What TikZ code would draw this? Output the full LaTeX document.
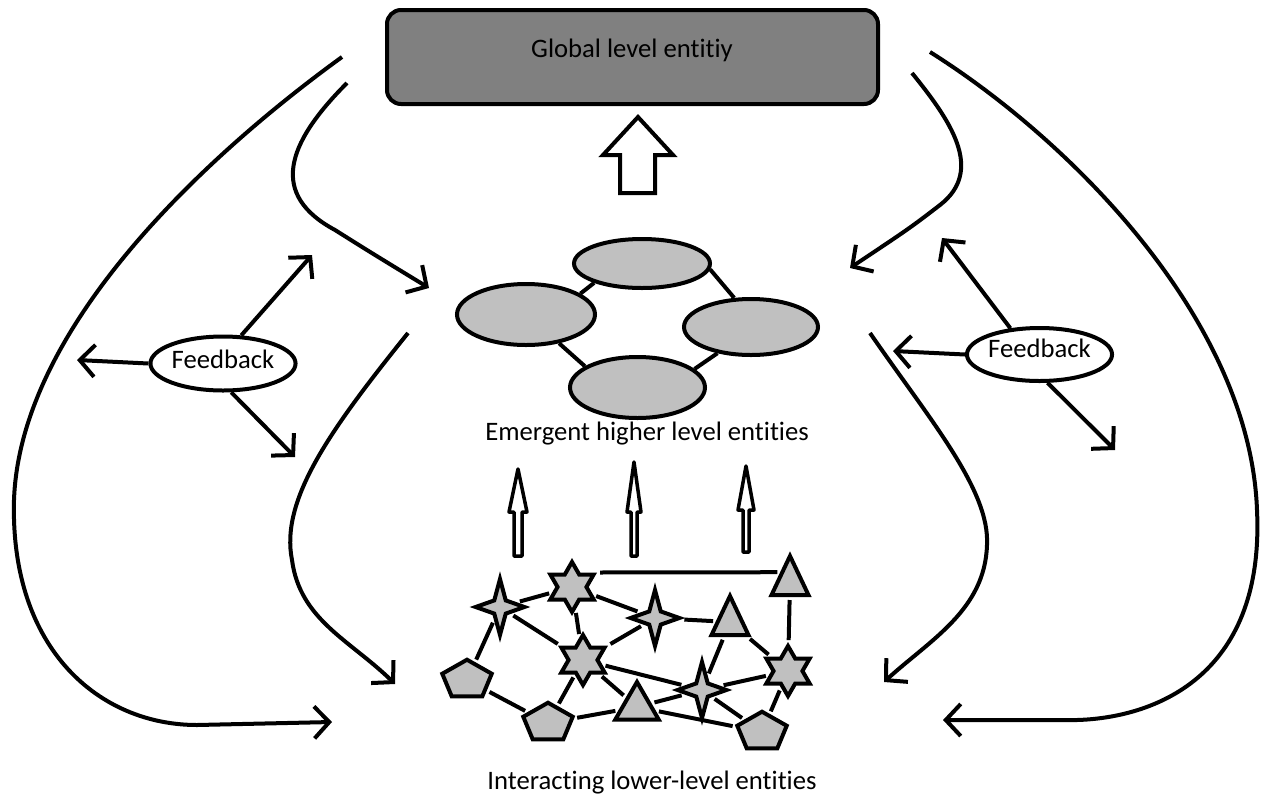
\documentclass[tikz,border=0pt]{standalone}
\usepackage{fontspec}
\setmainfont{Carlito}[Ligatures=NoCommon]
\usetikzlibrary{shapes.geometric,arrows.meta}
\definecolor{boxgray}{RGB}{128,128,128}
\definecolor{entgray}{RGB}{192,192,192}
\begin{document}
\begin{tikzpicture}[x=1pt,y=-1pt,line width=4pt,
  every node/.style={font=\fontsize{26.67}{32}\selectfont},
  arr/.style={-{Straight Barb[length=15pt,width=32pt]}},
  entity/.style={ellipse,draw,fill=entgray,inner sep=0pt},
  fb/.style={ellipse,draw,fill=white,inner sep=0pt,text height=18pt},
  hollow/.style={draw,fill=white,line join=round},
  net/.style={draw,fill=entgray,line width=4pt,inner sep=0pt},
  netline/.style={line width=4pt,shorten <=3pt,shorten >=3pt},
  hexa/.style={net,star,star points=6,star point ratio=1.732,minimum size=50pt},
  quad/.style={net,star,star points=4,star point ratio=3,minimum size=56pt,xscale=0.87,transform shape},
  tri/.style={net,regular polygon,regular polygon sides=3,minimum size=52pt},
  pent/.style={net,regular polygon,regular polygon sides=5,minimum size=52pt,yscale=0.78,transform shape}]
\useasboundingbox (0,0) rectangle (1270,796);

% global box
\node[draw,fill=boxgray,rounded corners=14pt,minimum width=491pt,minimum height=94pt,inner sep=0pt] (glob) at (632.5,57) {};
\node[anchor=base] (globtxt) at (632,57) {Global level entitiy};

% big hollow arrow
\draw[hollow,line join=miter] (638,117) -- (673,155) -- (655,155) -- (655,193) -- (620,193) -- (620,155) -- (603,155) -- cycle;

% emergent entities
\node[entity,minimum width=136pt,minimum height=49pt] (e1) at (642,263.5) {};
\node[entity,minimum width=138pt,minimum height=61pt] (e2) at (526,314.5) {};
\node[entity,minimum width=134pt,minimum height=56pt] (e3) at (751,327) {};
\node[entity,minimum width=135pt,minimum height=61pt] (e4) at (637.5,387.5) {};
\draw (e1.202) -- (e2.21);
\draw (e1.355) -- (e3.120);
\draw (e2.319) -- (e4.158);
\draw (e3.218) -- (e4.18);
\node[anchor=base] (emtxt) at (647,440) {Emergent higher level entities};

% thin hollow arrows
\draw[hollow,line width=3.5pt] (518,469) -- (527,512) -- (522,512) -- (522,556) -- (514,556) -- (514,512) -- (509,512) -- cycle;
\draw[hollow,line width=3.5pt] (634,462) -- (641,512) -- (637,512) -- (637,556) -- (631,556) -- (631,512) -- (627,512) -- cycle;
\draw[hollow,line width=3.5pt] (746,466) -- (754,510) -- (749,510) -- (749,552) -- (743,552) -- (743,510) -- (738,510) -- cycle;

% lower level network
\node[quad] (A) at (500,607) {};
\node[hexa] (B) at (572,587) {};
\node[quad] (C) at (655,618) {};
\node[tri,xscale=0.82,transform shape] (D) at (730,622) {};
\node[tri,xscale=0.82,transform shape] (E) at (790,582) {};
\node[hexa] (F) at (583,660) {};
\node[hexa] (G) at (788,671) {};
\node[quad] (H) at (702,690) {};
\node[tri,minimum size=50pt] (I) at (637,707) {};
\node[pent] (J) at (467,680) {};
\node[pent] (K) at (548,723) {};
\node[pent] (L) at (762,732) {};
\draw[netline] (A) -- (B);
\draw[netline] (B.30) -- (E.140);
\draw[netline] (B) -- (C);
\draw[netline] (B) -- (F);
\draw[netline] (A) -- (F);
\draw[netline] (A) -- (J);
\draw[netline] (C) -- (F);
\draw[netline] (C) -- (D);
\draw[netline] (D) -- (H);
\draw[netline] (D) -- (G);
\draw[netline] (E) -- (G);
\draw[netline] (F) -- (H);
\draw[netline] (F) -- (I);
\draw[netline] (F) -- (K);
\draw[netline] (J) -- (K);
\draw[netline] (K) -- (I);
\draw[netline] (I) -- (H);
\draw[netline] (I) -- (L);
\draw[netline] (H) -- (G);
\draw[netline] (H) -- (L);
\draw[netline] (G) -- (L);
\node[anchor=base] (lowtxt) at (652,789) {Interacting lower-level entities};

% feedback nodes
\node[fb,minimum width=145pt,minimum height=54pt,text depth=9pt] (fbL) at (223,363.5) {Feedback};
\node[fb,minimum width=143pt,minimum height=53pt,text depth=13pt] (fbR) at (1039.5,354.5) {Feedback};
\coordinate (fbL1) at (77,360);
\coordinate (fbL2) at (312,255);
\coordinate (fbL3) at (295,457);
\coordinate (fbR1) at (893,351);
\coordinate (fbR2) at (942,238);
\coordinate (fbR3) at (1115,450);
\draw[arr] (fbL.west) -- (fbL1);
\draw[arr] (fbL.57) -- (fbL2);
\draw[arr] (fbL.-74) -- (fbL3);
\draw[arr] (fbR.west) -- (fbR1);
\draw[arr] (fbR.138) -- (fbR2);
\draw[arr] (fbR.-74) -- (fbR3);

% curved feedback loops
\coordinate (c1s) at (342,57);   \coordinate (c1e) at (332,722);
\coordinate (c2s) at (347,83);   \coordinate (c2e) at (429,288);
\coordinate (c3s) at (408,333);  \coordinate (c3e) at (395,684);
\coordinate (c4s) at (930,52);   \coordinate (c4e) at (943,720);
\coordinate (c5s) at (912,73);   \coordinate (c5e) at (850,268);
\coordinate (c6s) at (870,333);  \coordinate (c6e) at (884,682);
\draw[arr] (c1s) .. controls (200,160) and (20,330) .. (14,500) .. controls (10,650) and (100,725) .. (197,725) -- (c1e);
\draw[arr] (c2s) .. controls (285,145) and (270,195) .. (335,230) .. controls (370,252) .. (c2e);
\draw[arr] (c3s) .. controls (330,430) and (280,500) .. (292,560) .. controls (300,620) and (350,640) .. (c3e);
\draw[arr] (c4s) .. controls (1070,140) and (1250,320) .. (1257,510) .. controls (1265,680) and (1150,718) .. (1077,720) -- (c4e);
\draw[arr] (c5s) .. controls (950,120) and (985,170) .. (940,205) .. controls (910,228) .. (c5e);
\draw[arr] (c6s) .. controls (930,420) and (990,490) .. (987,545) .. controls (985,610) and (930,640) .. (c6e);
\end{tikzpicture}
\end{document}
